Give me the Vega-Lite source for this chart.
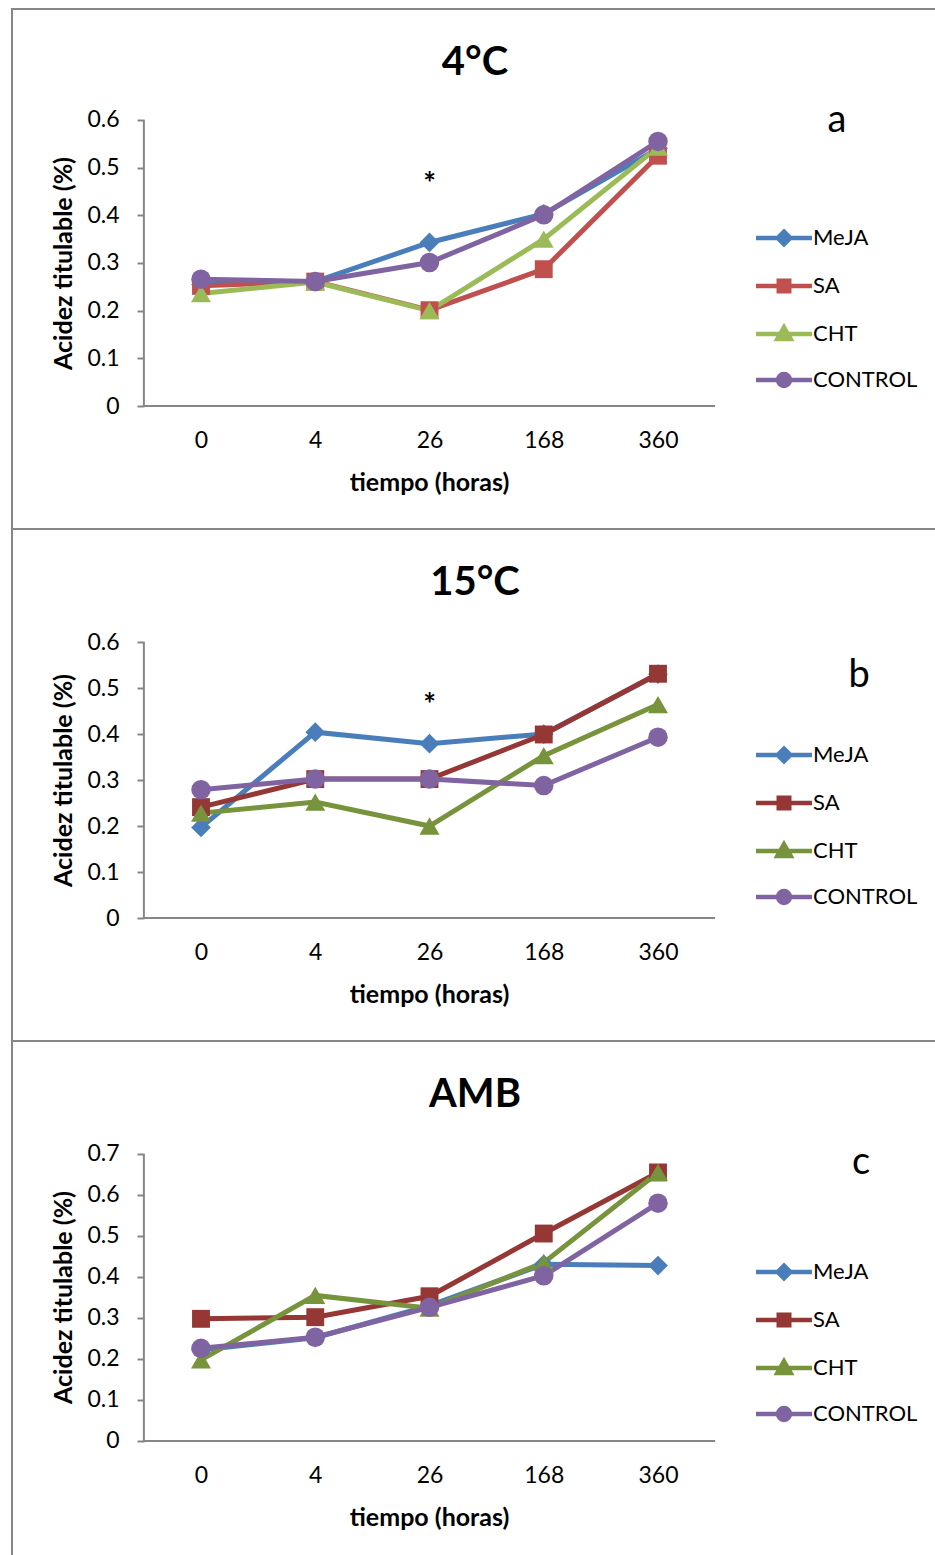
{
  "$schema": "https://vega.github.io/schema/vega-lite/v6.json",
  "background": "white",
  "padding": {"left": 11, "top": 8, "right": 0, "bottom": 0},
  "spacing": 0,
  "bounds": "flush",
  "config": {
    "font": "Lato",
    "view": {"stroke": "#868686", "strokeWidth": 2},
    "axis": {"labelFont": "Lato", "titleFont": "Lato", "labelColor": "#000000", "titleColor": "#000000", "labelFontSize": 23, "titleFontSize": 25, "titleFontWeight": "bold", "grid": false},
    "legend": {"labelFont": "Lato", "labelFontSize": 22, "labelColor": "#000000"},
    "title": {"font": "Lato", "fontSize": 40, "fontWeight": "bold", "color": "#000000", "anchor": "middle", "frame": "group"}
  },
  "resolve": {"scale": {"color": "independent"}, "legend": {"color": "independent"}},
  "datasets": {
    "t4": [
      {"i": 0, "tiempo": "0", "tratamiento": "MeJA", "acidez": 0.255},
      {"i": 1, "tiempo": "4", "tratamiento": "MeJA", "acidez": 0.261},
      {"i": 2, "tiempo": "26", "tratamiento": "MeJA", "acidez": 0.343},
      {"i": 3, "tiempo": "168", "tratamiento": "MeJA", "acidez": 0.403},
      {"i": 4, "tiempo": "360", "tratamiento": "MeJA", "acidez": 0.54},
      {"i": 0, "tiempo": "0", "tratamiento": "SA", "acidez": 0.252},
      {"i": 1, "tiempo": "4", "tratamiento": "SA", "acidez": 0.261},
      {"i": 2, "tiempo": "26", "tratamiento": "SA", "acidez": 0.201},
      {"i": 3, "tiempo": "168", "tratamiento": "SA", "acidez": 0.287},
      {"i": 4, "tiempo": "360", "tratamiento": "SA", "acidez": 0.525},
      {"i": 0, "tiempo": "0", "tratamiento": "CHT", "acidez": 0.236},
      {"i": 1, "tiempo": "4", "tratamiento": "CHT", "acidez": 0.26},
      {"i": 2, "tiempo": "26", "tratamiento": "CHT", "acidez": 0.2},
      {"i": 3, "tiempo": "168", "tratamiento": "CHT", "acidez": 0.35},
      {"i": 4, "tiempo": "360", "tratamiento": "CHT", "acidez": 0.543},
      {"i": 0, "tiempo": "0", "tratamiento": "CONTROL", "acidez": 0.266},
      {"i": 1, "tiempo": "4", "tratamiento": "CONTROL", "acidez": 0.261},
      {"i": 2, "tiempo": "26", "tratamiento": "CONTROL", "acidez": 0.301},
      {"i": 3, "tiempo": "168", "tratamiento": "CONTROL", "acidez": 0.401},
      {"i": 4, "tiempo": "360", "tratamiento": "CONTROL", "acidez": 0.555}
    ],
    "t15": [
      {"i": 0, "tiempo": "0", "tratamiento": "MeJA", "acidez": 0.197},
      {"i": 1, "tiempo": "4", "tratamiento": "MeJA", "acidez": 0.404},
      {"i": 2, "tiempo": "26", "tratamiento": "MeJA", "acidez": 0.379},
      {"i": 3, "tiempo": "168", "tratamiento": "MeJA", "acidez": 0.4},
      {"i": 4, "tiempo": "360", "tratamiento": "MeJA", "acidez": 0.53},
      {"i": 0, "tiempo": "0", "tratamiento": "SA", "acidez": 0.241},
      {"i": 1, "tiempo": "4", "tratamiento": "SA", "acidez": 0.302},
      {"i": 2, "tiempo": "26", "tratamiento": "SA", "acidez": 0.302},
      {"i": 3, "tiempo": "168", "tratamiento": "SA", "acidez": 0.399},
      {"i": 4, "tiempo": "360", "tratamiento": "SA", "acidez": 0.531},
      {"i": 0, "tiempo": "0", "tratamiento": "CHT", "acidez": 0.228},
      {"i": 1, "tiempo": "4", "tratamiento": "CHT", "acidez": 0.252},
      {"i": 2, "tiempo": "26", "tratamiento": "CHT", "acidez": 0.2},
      {"i": 3, "tiempo": "168", "tratamiento": "CHT", "acidez": 0.353},
      {"i": 4, "tiempo": "360", "tratamiento": "CHT", "acidez": 0.464},
      {"i": 0, "tiempo": "0", "tratamiento": "CONTROL", "acidez": 0.279},
      {"i": 1, "tiempo": "4", "tratamiento": "CONTROL", "acidez": 0.302},
      {"i": 2, "tiempo": "26", "tratamiento": "CONTROL", "acidez": 0.302},
      {"i": 3, "tiempo": "168", "tratamiento": "CONTROL", "acidez": 0.288},
      {"i": 4, "tiempo": "360", "tratamiento": "CONTROL", "acidez": 0.393}
    ],
    "amb": [
      {"i": 0, "tiempo": "0", "tratamiento": "MeJA", "acidez": 0.222},
      {"i": 1, "tiempo": "4", "tratamiento": "MeJA", "acidez": 0.252},
      {"i": 2, "tiempo": "26", "tratamiento": "MeJA", "acidez": 0.33},
      {"i": 3, "tiempo": "168", "tratamiento": "MeJA", "acidez": 0.431},
      {"i": 4, "tiempo": "360", "tratamiento": "MeJA", "acidez": 0.428},
      {"i": 0, "tiempo": "0", "tratamiento": "SA", "acidez": 0.298},
      {"i": 1, "tiempo": "4", "tratamiento": "SA", "acidez": 0.302},
      {"i": 2, "tiempo": "26", "tratamiento": "SA", "acidez": 0.353},
      {"i": 3, "tiempo": "168", "tratamiento": "SA", "acidez": 0.506},
      {"i": 4, "tiempo": "360", "tratamiento": "SA", "acidez": 0.655},
      {"i": 0, "tiempo": "0", "tratamiento": "CHT", "acidez": 0.198},
      {"i": 1, "tiempo": "4", "tratamiento": "CHT", "acidez": 0.355},
      {"i": 2, "tiempo": "26", "tratamiento": "CHT", "acidez": 0.324},
      {"i": 3, "tiempo": "168", "tratamiento": "CHT", "acidez": 0.435},
      {"i": 4, "tiempo": "360", "tratamiento": "CHT", "acidez": 0.655},
      {"i": 0, "tiempo": "0", "tratamiento": "CONTROL", "acidez": 0.226},
      {"i": 1, "tiempo": "4", "tratamiento": "CONTROL", "acidez": 0.253},
      {"i": 2, "tiempo": "26", "tratamiento": "CONTROL", "acidez": 0.326},
      {"i": 3, "tiempo": "168", "tratamiento": "CONTROL", "acidez": 0.403},
      {"i": 4, "tiempo": "360", "tratamiento": "CONTROL", "acidez": 0.58}
    ],
    "letra4": [{"i": 5.567, "acidez": 0.598, "label": "a"}],
    "letra15": [{"i": 5.76, "acidez": 0.526, "label": "b"}],
    "letraamb": [{"i": 5.777, "acidez": 0.678, "label": "c"}],
    "ast4": [{"i": 2, "acidez": 0.464, "label": "*"}],
    "ast15": [{"i": 2, "acidez": 0.461, "label": "*"}]
  },
  "vconcat": [
    {
      "width": 926,
      "height": 520,
      "title": {"text": "4°C", "offset": -74},
      "data": {"name": "t4"},
      "layer": [
        {"transform": [{"aggregate": [{"op": "count", "as": "n"}]}], "mark": {"type": "rule", "strokeWidth": 2, "color": "#868686"}, "encoding": {"x": {"datum": -0.5, "type": "quantitative"}, "y": {"datum": 0, "type": "quantitative"}, "y2": {"datum": 0.6}}},
        {"transform": [{"aggregate": [{"op": "count", "as": "n"}]}], "mark": {"type": "rule", "strokeWidth": 2, "color": "#868686"}, "encoding": {"x": {"datum": -0.5, "type": "quantitative"}, "x2": {"datum": 4.5}, "y": {"datum": 0, "type": "quantitative"}}},
        {
          "encoding": {
            "x": {"field": "i", "type": "quantitative", "scale": {"domain": [-1.6543, 6.4508], "nice": false, "zero": false},
              "axis": {"values": [0, 1, 2, 3, 4], "labelExpr": "['0','4','26','168','360'][datum.value]", "offset": -123, "domain": false, "ticks": false, "labelPadding": 23, "labelFlush": false, "title": "tiempo (horas)", "titleX": 417, "titleY": 76, "titleBaseline": "middle"}},
            "y": {"field": "acidez", "type": "quantitative", "scale": {"domain": [-0.258, 0.8328], "nice": false, "zero": false},
              "axis": {"values": [0, 0.1, 0.2, 0.3, 0.4, 0.5, 0.6], "format": ".1~f", "offset": -132, "domain": false, "tickSize": 7, "tickColor": "#868686", "tickWidth": 2, "labelPadding": 18, "labelFlush": false, "title": "Acidez titulable (%)", "titleX": -81, "titleY": 254, "titleBaseline": "middle"}},
            "color": {"field": "tratamiento", "type": "nominal", "scale": {"domain": ["MeJA", "SA", "CHT", "CONTROL"], "range": ["#4A7EBB", "#C0504D", "#9BBB59", "#8064A2"]},
              "legend": {"orient": "none", "legendX": 761, "legendY": 218, "title": null, "padding": 0, "symbolSize": 196, "labelOffset": 18, "rowPadding": 17,
                "encoding": {"symbols": {
                  "shape": {"value": {"expr": "datum.value === 'MeJA' ? 'M-4,0H4M0,-0.9L0.9,0L0,0.9L-0.9,0Z' : datum.value === 'SA' ? 'M-4,0H4M-0.75,-0.75H0.75V0.75H-0.75Z' : datum.value === 'CHT' ? 'M-4,0H4M0,-0.95L0.95,0.7H-0.95Z' : 'M-4,0H4M-0.85,0A0.85,0.85,0,1,1,0.85,0A0.85,0.85,0,1,1,-0.85,0Z'"}},
                  "stroke": {"value": {"expr": "datum.value === 'MeJA' ? '#4A7EBB' : datum.value === 'SA' ? '#C0504D' : datum.value === 'CHT' ? '#9BBB59' : '#8064A2'"}},
                  "fill": {"value": {"expr": "datum.value === 'MeJA' ? '#4A7EBB' : datum.value === 'SA' ? '#C0504D' : datum.value === 'CHT' ? '#9BBB59' : '#8064A2'"}},
                  "strokeWidth": {"value": 4.5},
                  "opacity": {"value": 1}
                }}}}
          },
          "layer": [
            {"mark": {"type": "line", "strokeWidth": 5}},
            {"transform": [{"filter": "datum.tratamiento === 'MeJA'"}], "mark": {"type": "point", "shape": "diamond", "filled": true, "opacity": 1, "size": 390}},
            {"transform": [{"filter": "datum.tratamiento === 'SA'"}], "mark": {"type": "point", "shape": "square", "filled": true, "opacity": 1, "size": 320}},
            {"transform": [{"filter": "datum.tratamiento === 'CHT'"}], "mark": {"type": "point", "shape": "triangle-up", "filled": true, "opacity": 1, "size": 400}},
            {"transform": [{"filter": "datum.tratamiento === 'CONTROL'"}], "mark": {"type": "point", "shape": "circle", "filled": true, "opacity": 1, "size": 380}},
            {"data": {"name": "letra4"}, "mark": {"type": "text", "fontSize": 38, "font": "Lato", "baseline": "middle", "align": "center"}, "encoding": {"text": {"field": "label"}, "color": {"value": "#000000"}}},
            {"data": {"name": "ast4"}, "mark": {"type": "text", "fontSize": 30, "fontWeight": "bold", "font": "Lato", "baseline": "middle", "align": "center"}, "encoding": {"text": {"field": "label"}, "color": {"value": "#000000"}}}
          ]
        }
      ]
    },
    {
      "width": 926,
      "height": 512,
      "title": {"text": "15°C", "offset": -74},
      "data": {"name": "t15"},
      "layer": [
        {"transform": [{"aggregate": [{"op": "count", "as": "n"}]}], "mark": {"type": "rule", "strokeWidth": 2, "color": "#868686"}, "encoding": {"x": {"datum": -0.5, "type": "quantitative"}, "y": {"datum": 0, "type": "quantitative"}, "y2": {"datum": 0.6}}},
        {"transform": [{"aggregate": [{"op": "count", "as": "n"}]}], "mark": {"type": "rule", "strokeWidth": 2, "color": "#868686"}, "encoding": {"x": {"datum": -0.5, "type": "quantitative"}, "x2": {"datum": 4.5}, "y": {"datum": 0, "type": "quantitative"}}},
        {
          "encoding": {
            "x": {"field": "i", "type": "quantitative", "scale": {"domain": [-1.6543, 6.4508], "nice": false, "zero": false},
              "axis": {"values": [0, 1, 2, 3, 4], "labelExpr": "['0','4','26','168','360'][datum.value]", "offset": -123, "domain": false, "ticks": false, "labelPadding": 23, "labelFlush": false, "title": "tiempo (horas)", "titleX": 417, "titleY": 76, "titleBaseline": "middle"}},
            "y": {"field": "acidez", "type": "quantitative", "scale": {"domain": [-0.2674, 0.8457], "nice": false, "zero": false},
              "axis": {"values": [0, 0.1, 0.2, 0.3, 0.4, 0.5, 0.6], "format": ".1~f", "offset": -132, "domain": false, "tickSize": 7, "tickColor": "#868686", "tickWidth": 2, "labelPadding": 18, "labelFlush": false, "title": "Acidez titulable (%)", "titleX": -81, "titleY": 251, "titleBaseline": "middle"}},
            "color": {"field": "tratamiento", "type": "nominal", "scale": {"domain": ["MeJA", "SA", "CHT", "CONTROL"], "range": ["#4A7EBB", "#953735", "#77933C", "#8064A2"]},
              "legend": {"orient": "none", "legendX": 761, "legendY": 215, "title": null, "padding": 0, "symbolSize": 196, "labelOffset": 18, "rowPadding": 17,
                "encoding": {"symbols": {
                  "shape": {"value": {"expr": "datum.value === 'MeJA' ? 'M-4,0H4M0,-0.9L0.9,0L0,0.9L-0.9,0Z' : datum.value === 'SA' ? 'M-4,0H4M-0.75,-0.75H0.75V0.75H-0.75Z' : datum.value === 'CHT' ? 'M-4,0H4M0,-0.95L0.95,0.7H-0.95Z' : 'M-4,0H4M-0.85,0A0.85,0.85,0,1,1,0.85,0A0.85,0.85,0,1,1,-0.85,0Z'"}},
                  "stroke": {"value": {"expr": "datum.value === 'MeJA' ? '#4A7EBB' : datum.value === 'SA' ? '#953735' : datum.value === 'CHT' ? '#77933C' : '#8064A2'"}},
                  "fill": {"value": {"expr": "datum.value === 'MeJA' ? '#4A7EBB' : datum.value === 'SA' ? '#953735' : datum.value === 'CHT' ? '#77933C' : '#8064A2'"}},
                  "strokeWidth": {"value": 4.5},
                  "opacity": {"value": 1}
                }}}}
          },
          "layer": [
            {"mark": {"type": "line", "strokeWidth": 5}},
            {"transform": [{"filter": "datum.tratamiento === 'MeJA'"}], "mark": {"type": "point", "shape": "diamond", "filled": true, "opacity": 1, "size": 390}},
            {"transform": [{"filter": "datum.tratamiento === 'SA'"}], "mark": {"type": "point", "shape": "square", "filled": true, "opacity": 1, "size": 320}},
            {"transform": [{"filter": "datum.tratamiento === 'CHT'"}], "mark": {"type": "point", "shape": "triangle-up", "filled": true, "opacity": 1, "size": 400}},
            {"transform": [{"filter": "datum.tratamiento === 'CONTROL'"}], "mark": {"type": "point", "shape": "circle", "filled": true, "opacity": 1, "size": 380}},
            {"data": {"name": "letra15"}, "mark": {"type": "text", "fontSize": 38, "font": "Lato", "baseline": "middle", "align": "center"}, "encoding": {"text": {"field": "label"}, "color": {"value": "#000000"}}},
            {"data": {"name": "ast15"}, "mark": {"type": "text", "fontSize": 30, "fontWeight": "bold", "font": "Lato", "baseline": "middle", "align": "center"}, "encoding": {"text": {"field": "label"}, "color": {"value": "#000000"}}}
          ]
        }
      ]
    },
    {
      "width": 926,
      "height": 520,
      "title": {"text": "AMB", "offset": -74},
      "data": {"name": "amb"},
      "layer": [
        {"transform": [{"aggregate": [{"op": "count", "as": "n"}]}], "mark": {"type": "rule", "strokeWidth": 2, "color": "#868686"}, "encoding": {"x": {"datum": -0.5, "type": "quantitative"}, "y": {"datum": 0, "type": "quantitative"}, "y2": {"datum": 0.7}}},
        {"transform": [{"aggregate": [{"op": "count", "as": "n"}]}], "mark": {"type": "rule", "strokeWidth": 2, "color": "#868686"}, "encoding": {"x": {"datum": -0.5, "type": "quantitative"}, "x2": {"datum": 4.5}, "y": {"datum": 0, "type": "quantitative"}}},
        {
          "encoding": {
            "x": {"field": "i", "type": "quantitative", "scale": {"domain": [-1.6543, 6.4508], "nice": false, "zero": false},
              "axis": {"values": [0, 1, 2, 3, 4], "labelExpr": "['0','4','26','168','360'][datum.value]", "offset": -120, "domain": false, "ticks": false, "labelPadding": 23, "labelFlush": false, "title": "tiempo (horas)", "titleX": 417, "titleY": 76, "titleBaseline": "middle"}},
            "y": {"field": "acidez", "type": "quantitative", "scale": {"domain": [-0.2927, 0.9756], "nice": false, "zero": false},
              "axis": {"values": [0, 0.1, 0.2, 0.3, 0.4, 0.5, 0.6, 0.7], "format": ".1~f", "offset": -132, "domain": false, "tickSize": 7, "tickColor": "#868686", "tickWidth": 2, "labelPadding": 18, "labelFlush": false, "title": "Acidez titulable (%)", "titleX": -81, "titleY": 256, "titleBaseline": "middle"}},
            "color": {"field": "tratamiento", "type": "nominal", "scale": {"domain": ["MeJA", "SA", "CHT", "CONTROL"], "range": ["#4A7EBB", "#953735", "#77933C", "#8064A2"]},
              "legend": {"orient": "none", "legendX": 761, "legendY": 220, "title": null, "padding": 0, "symbolSize": 196, "labelOffset": 18, "rowPadding": 17,
                "encoding": {"symbols": {
                  "shape": {"value": {"expr": "datum.value === 'MeJA' ? 'M-4,0H4M0,-0.9L0.9,0L0,0.9L-0.9,0Z' : datum.value === 'SA' ? 'M-4,0H4M-0.75,-0.75H0.75V0.75H-0.75Z' : datum.value === 'CHT' ? 'M-4,0H4M0,-0.95L0.95,0.7H-0.95Z' : 'M-4,0H4M-0.85,0A0.85,0.85,0,1,1,0.85,0A0.85,0.85,0,1,1,-0.85,0Z'"}},
                  "stroke": {"value": {"expr": "datum.value === 'MeJA' ? '#4A7EBB' : datum.value === 'SA' ? '#953735' : datum.value === 'CHT' ? '#77933C' : '#8064A2'"}},
                  "fill": {"value": {"expr": "datum.value === 'MeJA' ? '#4A7EBB' : datum.value === 'SA' ? '#953735' : datum.value === 'CHT' ? '#77933C' : '#8064A2'"}},
                  "strokeWidth": {"value": 4.5},
                  "opacity": {"value": 1}
                }}}}
          },
          "layer": [
            {"mark": {"type": "line", "strokeWidth": 5}},
            {"transform": [{"filter": "datum.tratamiento === 'MeJA'"}], "mark": {"type": "point", "shape": "diamond", "filled": true, "opacity": 1, "size": 390}},
            {"transform": [{"filter": "datum.tratamiento === 'SA'"}], "mark": {"type": "point", "shape": "square", "filled": true, "opacity": 1, "size": 320}},
            {"transform": [{"filter": "datum.tratamiento === 'CHT'"}], "mark": {"type": "point", "shape": "triangle-up", "filled": true, "opacity": 1, "size": 400}},
            {"transform": [{"filter": "datum.tratamiento === 'CONTROL'"}], "mark": {"type": "point", "shape": "circle", "filled": true, "opacity": 1, "size": 380}},
            {"data": {"name": "letraamb"}, "mark": {"type": "text", "fontSize": 38, "font": "Lato", "baseline": "middle", "align": "center"}, "encoding": {"text": {"field": "label"}, "color": {"value": "#000000"}}}
          ]
        }
      ]
    }
  ]
}
